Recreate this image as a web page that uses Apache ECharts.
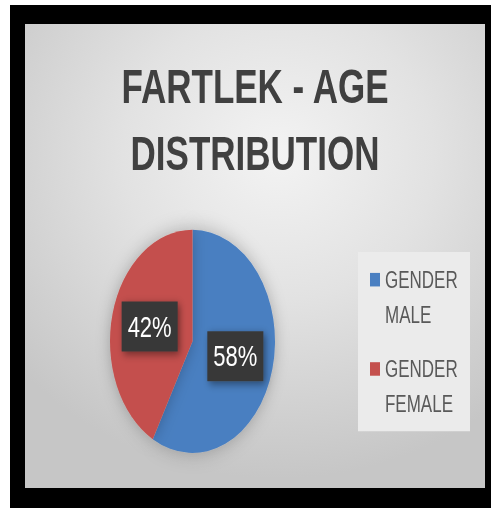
<!DOCTYPE html>
<html>
<head>
<meta charset="utf-8">
<script src="https://cdn.jsdelivr.net/npm/echarts@6/dist/echarts.min.js"></script>
<style>
  html, body { margin: 0; padding: 0; background: #ffffff; width: 491px; height: 509px; overflow: hidden; }
  #frame { position: absolute; left: 10px; top: 5px; width: 481px; height: 503px; background: #000; }
  #inner { position: absolute; left: 25px; top: 24px; width: 460px; height: 464px;
    background: radial-gradient(ellipse 75% 70% at 55% 28%, #f3f3f3 0%, #e2e2e2 45%, #c6c6c6 100%); overflow: hidden; }
  #chart { position: absolute; left: 0; top: 0; width: 460px; height: 343px;
    transform-origin: 0 0; transform: scaleY(1.3528); }
</style>
</head>
<body>
<div id="frame"></div>
<div id="inner"><div id="chart"></div></div>
<script>
const titleText = 'FARTLEK - AGE\nDISTRIBUTION';
const categories = ['GENDER\nMALE', 'GENDER\nFEMALE'];
const values = [58, 42];
const colors = ['#4a7fc1', '#c4504d'];

const chart = echarts.init(document.getElementById('chart'), null, { renderer: 'svg' });
chart.setOption({
  animation: false,
  title: {
    text: titleText,
    left: 'center',
    top: 22,
    padding: 0,
    textStyle: {
      fontFamily: "'Liberation Sans Narrow', 'Liberation Sans', Arial, sans-serif",
      fontWeight: 'bold',
      fontSize: 35,
      lineHeight: 49,
      color: '#404040'
    }
  },
  graphic: [{
    type: 'rect',
    z: -1,
    shape: { x: 333, y: 168.5, width: 112, height: 132.5 },
    style: { fill: '#ebebeb' }
  }],
  legend: {
    orient: 'vertical',
    left: 345,
    top: 150,
    itemWidth: 10,
    itemHeight: 10,
    itemGap: -12,
    icon: 'rect',
    padding: 0,
    formatter: function (name) { return '\n' + name; },
    textStyle: {
      fontFamily: "'Liberation Sans', Arial, sans-serif",
      fontSize: 17,
      lineHeight: 26,
      color: '#595959'
    },
    data: categories
  },
  series: [{
    type: 'pie',
    center: [167.5, 234.6],
    radius: [0, 82.5],
    startAngle: 90,
    clockwise: true,
    itemStyle: { shadowBlur: 14, shadowColor: 'rgba(0,0,0,0.25)' },
    label: {
      show: true,
      position: 'inside',
      formatter: '{c}%',
      color: '#ffffff',
      fontFamily: "'Liberation Sans', Arial, sans-serif",
      fontSize: 22,
      lineHeight: 25,
      backgroundColor: '#383838',
      padding: [6, 6],
      shadowBlur: 6,
      shadowColor: 'rgba(0,0,0,0.45)',
      shadowOffsetX: 2,
      shadowOffsetY: 2
    },
    labelLine: { show: false },
    data: categories.map((c, i) => ({ name: c, value: values[i], itemStyle: { color: colors[i] } }))
  }]
});
</script>
</body>
</html>
